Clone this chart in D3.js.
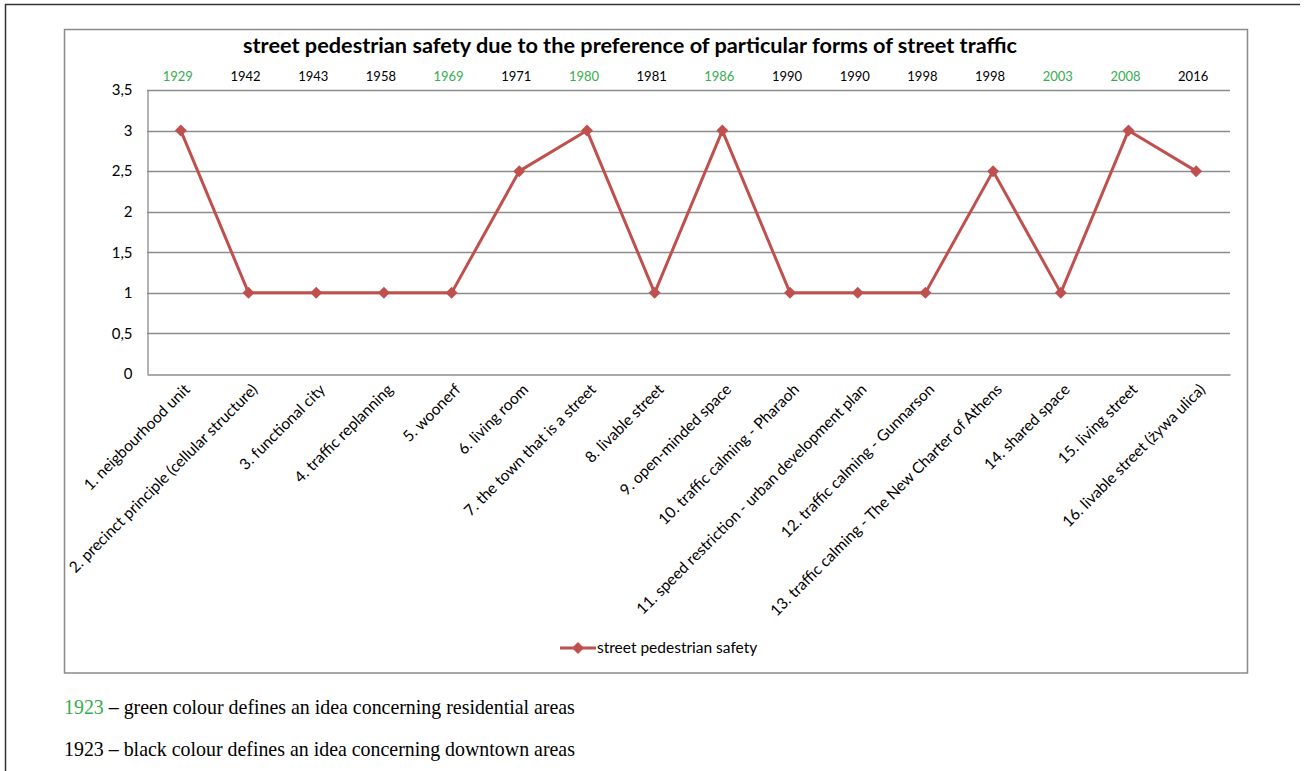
<!DOCTYPE html>
<html>
<head>
<meta charset="utf-8">
<script src="https://cdn.jsdelivr.net/npm/d3@7/dist/d3.min.js"></script>
<style>
  html, body { margin: 0; padding: 0; background: #fff; }
  svg { display: block; }
</style>
</head>
<body>
<svg id="chart" width="1305" height="771"></svg>
<script>
// Ideas of street design, the year each appeared, and the pedestrian-safety score
const categories = [
  "1. neigbourhood unit",
  "2. precinct principle (cellular structure)",
  "3. functional city",
  "4. traffic replanning",
  "5. woonerf",
  "6. living room",
  "7. the town that is a street",
  "8. livable street",
  "9. open-minded space",
  "10. traffic calming - Pharaoh",
  "11. speed restriction - urban development plan",
  "12. traffic calming - Gunnarson",
  "13. traffic calming - The New Charter of Athens",
  "14. shared space",
  "15. living street",
  "16. livable street (żywa ulica)"
];
const years = ["1929", "1942", "1943", "1958", "1969", "1971", "1980", "1981",
               "1986", "1990", "1990", "1998", "1998", "2003", "2008", "2016"];
// true = residential idea (green year), false = downtown idea (black year)
const residential = [true, false, false, false, true, false, true, false,
                     true, false, false, false, false, true, true, false];
const safety = [3, 1, 1, 1, 1, 2.5, 3, 1, 3, 1, 1, 1, 2.5, 1, 3, 2.5];
const yTicks = [0, 0.5, 1, 1.5, 2, 2.5, 3, 3.5];

const seriesName = "street pedestrian safety";
const title = "street pedestrian safety due to the preference of particular forms of street traffic";

const RED = "#c0504d";
const GREEN = "#35ad4e";
const GRID = "#8c8c8c";
const FONT = "Lato, 'Open Sans', sans-serif";

const svg = d3.select("#chart");

// page border lines
svg.append("line").attr("x1", 5).attr("x2", 1300).attr("y1", 4.5).attr("y2", 4.5)
  .attr("stroke", "#333").attr("stroke-width", 1.5);
svg.append("line").attr("x1", 5.5).attr("x2", 5.5).attr("y1", 4).attr("y2", 771)
  .attr("stroke", "#333").attr("stroke-width", 1.5);

// chart frame
svg.append("rect").attr("x", 64.5).attr("y", 29.5).attr("width", 1183).attr("height", 643.5)
  .attr("fill", "#fff").attr("stroke", "#8a8a8a").attr("stroke-width", 1.5);

const plot = { left: 147, right: 1230, top: 90, bottom: 374 };

const x = d3.scaleBand().domain(d3.range(categories.length))
  .range([plot.left, plot.right]).paddingInner(0).paddingOuter(0);
const y = d3.scaleLinear().domain([0, 3.5]).range([plot.bottom, plot.top]);
const cx = i => x(i) + x.bandwidth() / 2;

// title
svg.append("text")
  .attr("x", 630).attr("y", 53)
  .attr("text-anchor", "middle")
  .attr("font-family", FONT).attr("font-weight", "bold").attr("font-size", 20)
  .attr("textLength", 774).attr("lengthAdjust", "spacingAndGlyphs")
  .attr("fill", "#000")
  .text(title);

// horizontal gridlines
svg.append("g")
  .selectAll("line").data(yTicks.filter(d => d > 0)).join("line")
  .attr("x1", plot.left).attr("x2", plot.right)
  .attr("y1", d => Math.round(y(d)) + 0.5).attr("y2", d => Math.round(y(d)) + 0.5)
  .attr("stroke", GRID).attr("stroke-width", 1.3);

// y axis
const yAxis = svg.append("g")
  .attr("transform", `translate(${plot.left + 0.5},0)`)
  .call(d3.axisLeft(y).tickValues(yTicks).tickSize(0).tickPadding(15)
    .tickFormat(d => String(d).replace(".", ",")));
yAxis.select(".domain").attr("stroke", GRID).attr("stroke-width", 1.3);
yAxis.selectAll("text")
  .attr("font-family", FONT).attr("font-size", 15).attr("fill", "#000");

// x axis (baseline) with rotated category labels
const xAxis = svg.append("g")
  .attr("transform", `translate(0,${plot.bottom + 0.5})`)
  .call(d3.axisBottom(x).tickSize(0).tickFormat(i => categories[i]));
xAxis.select(".domain").attr("stroke", GRID).attr("stroke-width", 1.3);
xAxis.selectAll("text")
  .attr("font-family", FONT).attr("font-size", 15.5).attr("fill", "#000")
  .attr("text-anchor", "end")
  .attr("dy", null).attr("y", 0)
  .attr("transform", "translate(10,16) rotate(-45)");

// years above the plot
svg.append("g")
  .selectAll("text").data(years).join("text")
  .attr("x", (d, i) => cx(i) - 3).attr("y", 81)
  .attr("text-anchor", "middle")
  .attr("font-family", FONT).attr("font-size", 13)
  .attr("fill", (d, i) => residential[i] ? GREEN : "#000")
  .text(d => d);

// series line
const line = d3.line().x((d, i) => cx(i)).y(d => y(d));
svg.append("path")
  .datum(safety)
  .attr("d", line)
  .attr("fill", "none").attr("stroke", RED).attr("stroke-width", 3)
  .attr("stroke-linejoin", "round");

// diamond markers
const diamond = d3.symbol().type(d3.symbolSquare).size(72);
svg.append("g")
  .selectAll("path").data(safety).join("path")
  .attr("d", diamond)
  .attr("transform", (d, i) => `translate(${cx(i)},${y(d)}) rotate(45)`)
  .attr("fill", RED);

// legend
const lg = svg.append("g").attr("transform", "translate(560,648)");
lg.append("line").attr("x1", 0).attr("x2", 36).attr("y1", 0).attr("y2", 0)
  .attr("stroke", RED).attr("stroke-width", 3);
lg.append("path").attr("d", diamond).attr("transform", "translate(18,0) rotate(45)").attr("fill", RED);
lg.append("text").attr("x", 37).attr("y", 5)
  .attr("font-family", FONT).attr("font-size", 15.5).attr("fill", "#000")
  .text(seriesName);

// notes under the chart
const SERIF = "'Liberation Serif', 'Times New Roman', serif";
const note1 = svg.append("text").attr("x", 64).attr("y", 714)
  .attr("font-family", SERIF).attr("font-size", 19.9).attr("fill", "#000");
note1.append("tspan").attr("fill", GREEN).text("1923");
note1.append("tspan").text(" – green colour defines an idea concerning residential areas");

svg.append("text").attr("x", 64).attr("y", 756)
  .attr("font-family", SERIF).attr("font-size", 19.9).attr("fill", "#000")
  .text("1923 – black colour defines an idea concerning downtown areas");
</script>
</body>
</html>
